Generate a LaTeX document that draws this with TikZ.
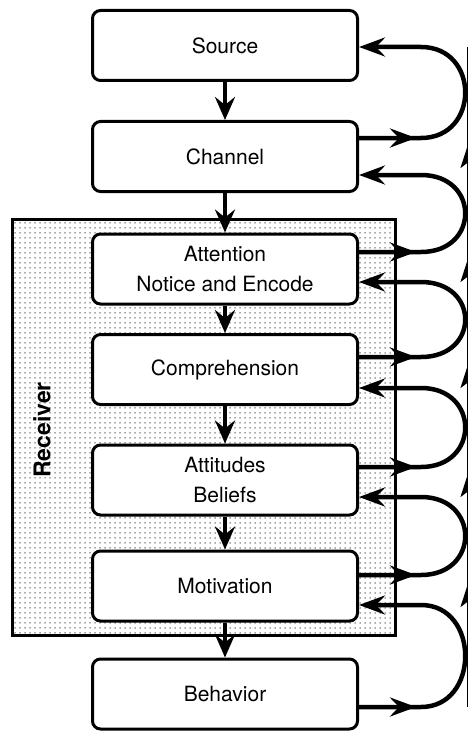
\documentclass[tikz,border=0pt]{standalone}
\usepackage{fontspec}
\setmainfont{TeX Gyre Heros}
\usetikzlibrary{arrows.meta,patterns.meta}

\tikzset{
  stage/.style={draw, line width=3pt, rounded corners=8pt, fill=white,
    minimum width=265pt, minimum height=70pt, align=center,
    font=\fontsize{21}{30}\selectfont},
  flow/.style={line width=4pt, -{Stealth[length=23pt,width=20pt,inset=8pt]}},
  fb/.style={line width=4.5pt},
  fbtip/.style={fb, -{Stealth[length=26pt,width=19pt,inset=9pt]}},
}

\begin{document}
\begin{tikzpicture}[x=1pt,y=-1pt]
\newcommand{\Fbx}{62} % straight part of a feedback line
\newcommand{\Fbc}{59} % bend of a feedback loop
\newcommand{\Fbarr}{57} % where the outgoing arrow tip sits

\clip (0,0) rectangle (468,733);

% receiver
\draw[line width=3pt, pattern={Dots[distance=5pt,radius=0.75pt]}, pattern color=black!70] (12,219) rectangle (395,635);
\node[rotate=90, font=\fontsize{23}{26}\selectfont\bfseries] (recvlabel) at (42,430) {Receiver};

% stages
\node[stage] (source) at (225,45.5) {Source};
\node[stage] (channel) at (225,156.5) {Channel};
\node[stage] (attention) at (225,269) {Attention\\Notice and Encode};
\node[stage] (comprehension) at (225,369.5) {Comprehension};
\node[stage] (attitudes) at (225,480) {Attitudes\\Beliefs};
\node[stage] (motivation) at (225,586) {Motivation};
\node[stage] (behavior) at (225,694) {Behavior};
%

% forward arrows
\draw[flow] (source) -- (channel);
\draw[flow] (channel) -- (attention);
\draw[flow] (attention) -- (comprehension);
\draw[flow] (comprehension) -- (attitudes);
\draw[flow] (attitudes) -- (motivation);
\draw[flow] (motivation) -- (behavior);

% feedback loops
\draw[fbtip] ([yshift=18.5pt]channel.east) -- ++(\Fbarr,0);
\draw[fbtip] ([yshift=18.5pt]channel.east) -- ++(\Fbx,0) .. controls +(\Fbc,0) and +(\Fbc,0) .. ([xshift=\Fbx pt,yshift=-1.5pt]source.east) -- ([yshift=-1.5pt]source.east);

\draw[fbtip] ([yshift=17pt]attention.east) -- ++(\Fbarr,0);
\draw[fbtip] ([yshift=17pt]attention.east) -- ++(\Fbx,0) .. controls +(\Fbc,0) and +(\Fbc,0) .. ([xshift=\Fbx pt,yshift=-18.5pt]channel.east) -- ([yshift=-18.5pt]channel.east);

\draw[fbtip] ([yshift=12.5pt]comprehension.east) -- ++(\Fbarr,0);
\draw[fbtip] ([yshift=12.5pt]comprehension.east) -- ++(\Fbx,0) .. controls +(\Fbc,0) and +(\Fbc,0) .. ([xshift=\Fbx pt,yshift=-13pt]attention.east) -- ([yshift=-13pt]attention.east);

\draw[fbtip] ([yshift=13pt]attitudes.east) -- ++(\Fbarr,0);
\draw[fbtip] ([yshift=13pt]attitudes.east) -- ++(\Fbx,0) .. controls +(\Fbc,0) and +(\Fbc,0) .. ([xshift=\Fbx pt,yshift=-18.5pt]comprehension.east) -- ([yshift=-18.5pt]comprehension.east);

\draw[fbtip] ([yshift=11pt]motivation.east) -- ++(\Fbarr,0);
\draw[fbtip] ([yshift=11pt]motivation.east) -- ++(\Fbx,0) .. controls +(\Fbc,0) and +(\Fbc,0) .. ([xshift=\Fbx pt,yshift=-17pt]attitudes.east) -- ([yshift=-17pt]attitudes.east);

\draw[fbtip] ([yshift=-13pt]behavior.east) -- ++(\Fbarr,0);
\draw[fbtip] ([yshift=-13pt]behavior.east) -- ++(\Fbx,0) .. controls +(\Fbc,0) and +(\Fbc,0) .. ([xshift=\Fbx pt,yshift=-19pt]motivation.east) -- ([yshift=-19pt]motivation.east);

% return line at the far right
\draw[line width=2.5pt] (468.5,47) -- (468.5,707);
\foreach \t in {143,257,363,472,582}
  \draw[line width=2.5pt, -{Stealth[length=25pt,width=16pt,inset=6pt]}] (468.5,\t+25) -- (468.5,\t);
\end{tikzpicture}
\end{document}
